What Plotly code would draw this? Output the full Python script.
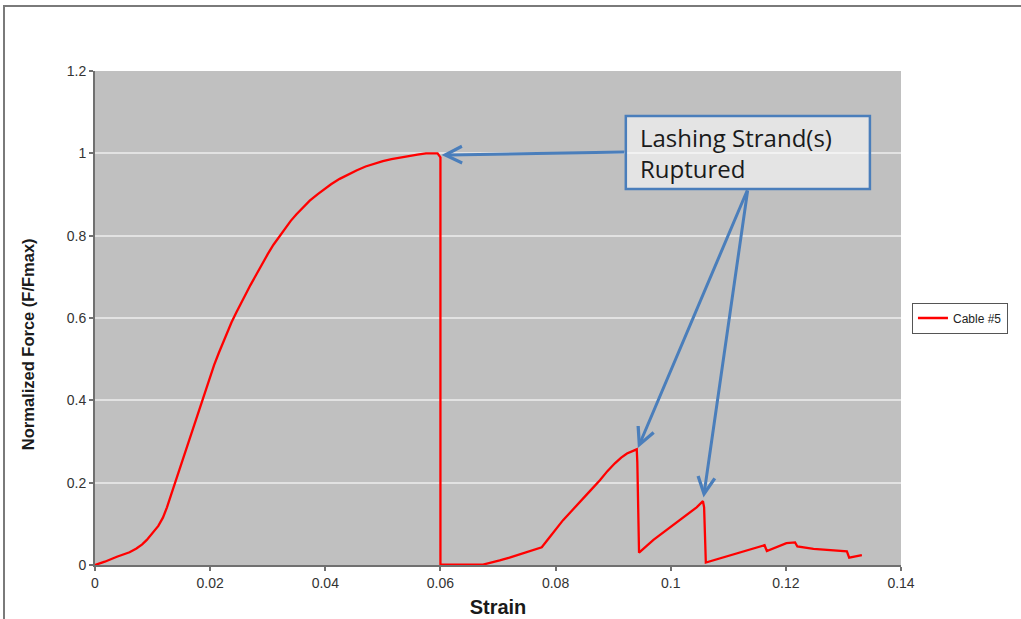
import plotly.graph_objects as go

# ---- data ----
strain = [
    0.0000, 0.0017, 0.0038, 0.0060, 0.0072, 0.0082, 0.0090, 0.0100, 0.0110,
    0.0118, 0.0125, 0.0132, 0.0139, 0.0147, 0.0155, 0.0162, 0.0170, 0.0178,
    0.0186, 0.0193, 0.0200, 0.0207, 0.0215, 0.0222, 0.0230, 0.0237, 0.0245,
    0.0252, 0.0260, 0.0270, 0.0280, 0.0290, 0.0300, 0.0310, 0.0321, 0.0330,
    0.0340, 0.0350, 0.0360, 0.0373, 0.0387, 0.0400, 0.0410, 0.0425, 0.0443,
    0.0455, 0.0470, 0.0485, 0.0500, 0.0515, 0.0530, 0.0545, 0.0560, 0.0575,
    0.0595, 0.0600, 0.0599, 0.0600,
    0.0674, 0.0690, 0.0703, 0.0720, 0.0738, 0.0761, 0.0770, 0.0776, 0.0790,
    0.0813, 0.0827, 0.0842, 0.0860, 0.0877, 0.0890, 0.0903, 0.0914, 0.0924,
    0.0933, 0.0941, 0.0942, 0.0945,
    0.0970, 0.1000, 0.1030, 0.1045, 0.1056, 0.1058, 0.1061,
    0.1100, 0.1138, 0.1163, 0.1167, 0.1201, 0.1216, 0.1220,
    0.1248, 0.1306, 0.1310, 0.1332,
]
force = [
    0.000, 0.008, 0.020, 0.031, 0.040, 0.050, 0.061, 0.078, 0.095,
    0.115, 0.140, 0.170, 0.200, 0.234, 0.267, 0.297, 0.332, 0.366,
    0.400, 0.430, 0.458, 0.486, 0.515, 0.540, 0.565, 0.589, 0.612,
    0.632, 0.653, 0.680, 0.705, 0.731, 0.755, 0.778, 0.800, 0.818,
    0.836, 0.852, 0.867, 0.885, 0.901, 0.915, 0.925, 0.938, 0.951,
    0.959, 0.968, 0.975, 0.981, 0.986, 0.990, 0.994, 0.997, 1.000,
    1.000, 0.990, 0.015, 0.001,
    0.001, 0.006, 0.011, 0.018, 0.026, 0.036, 0.040, 0.043, 0.068,
    0.109, 0.130, 0.152, 0.180, 0.206, 0.228, 0.247, 0.261, 0.271,
    0.277, 0.281, 0.250, 0.030,
    0.061, 0.093, 0.124, 0.140, 0.155, 0.140, 0.006,
    0.022, 0.038, 0.048, 0.034, 0.053, 0.055, 0.045,
    0.039, 0.033, 0.018, 0.024,
]
series_name = "Cable #5"
x_ticks = [0, 0.02, 0.04, 0.06, 0.08, 0.1, 0.12, 0.14]
x_tick_labels = ["0", "0.02", "0.04", "0.06", "0.08", "0.1", "0.12", "0.14"]
y_ticks = [0, 0.2, 0.4, 0.6, 0.8, 1.0, 1.2]
y_tick_labels = ["0", "0.2", "0.4", "0.6", "0.8", "1", "1.2"]
x_title = "Strain"
y_title = "Normalized Force (F/Fmax)"
note_lines = ["Lashing Strand(s)", "Ruptured"]

# rupture points (peaks just before each sudden drop), derived from the data
def peak_in(lo, hi):
    idx = [i for i, s in enumerate(strain) if lo <= s <= hi]
    best = max(idx, key=lambda i: (force[i], strain[i]))
    return strain[best], force[best]

ruptures = [peak_in(0.0, 0.0605), peak_in(0.085, 0.0999), peak_in(0.1, 0.11)]

fig = go.Figure()
fig.add_trace(go.Scatter(
    x=strain, y=force, mode="lines", name=series_name,
    line=dict(color="#FF0000", width=2.3),
))

axis_font = dict(family="Liberation Sans, Arial, sans-serif", size=14, color="#333333")

fig.update_layout(
    width=1021, height=619,
    margin=dict(l=95, r=120, t=71, b=54),
    paper_bgcolor="white",
    plot_bgcolor="#C0C0C0",
    showlegend=True,
    legend=dict(
        x=1.0136, xanchor="left", y=0.5, yanchor="middle",
        bgcolor="white", bordercolor="#555555", borderwidth=1,
        font=dict(family="Liberation Sans, Arial, sans-serif", size=12, color="#222222"),
        itemwidth=30,
    ),
    xaxis=dict(
        range=[0, 0.14], tickvals=x_ticks, ticktext=x_tick_labels,
        showgrid=False, zeroline=False, automargin=False,
        showline=True, linecolor="#707070", linewidth=2,
        ticks="outside", ticklen=4, tickcolor="#707070", tickwidth=1.5,
        tickfont=axis_font,
        title=dict(text="<b>" + x_title + "</b>", standoff=10,
                   font=dict(family="Liberation Sans, Arial, sans-serif", size=20, color="#1a1a1a")),
    ),
    yaxis=dict(
        range=[0, 1.2], tickvals=y_ticks, ticktext=y_tick_labels,
        showgrid=True, gridcolor="#E2E2E2", gridwidth=1.5, zeroline=False, automargin=False,
        showline=True, linecolor="#707070", linewidth=2,
        ticks="outside", ticklen=4, tickcolor="#707070", tickwidth=1.5,
        tickfont=axis_font,
    ),
)

# y-axis title (placed slightly below centre as in the reference)
fig.add_annotation(
    xref="paper", yref="paper", x=-0.0831, y=0.447,
    xanchor="center", yanchor="middle", textangle=-90, showarrow=False,
    text="<b>" + y_title + "</b>",
    font=dict(family="Liberation Sans, Arial, sans-serif", size=16.5, color="#1a1a1a"),
)

# outer chart border
fig.add_shape(type="rect", xref="paper", yref="paper",
              x0=-0.1129, x1=1.3, y0=-0.3, y1=1.1316,
              line=dict(color="#7a7a7a", width=2), fillcolor="rgba(0,0,0,0)", layer="below")

# callout box
box_x0, box_x1 = 0.0922, 0.1346
box_y0, box_y1 = 0.9133, 1.0906
fig.add_shape(type="rect", xref="x", yref="y",
              x0=box_x0, x1=box_x1, y0=box_y0, y1=box_y1,
              line=dict(color="#4A7EBB", width=2.5),
              fillcolor="rgba(255,255,255,0.57)", layer="above")
fig.add_annotation(
    xref="x", yref="y", x=box_x0 + 0.0022, y=(box_y0 + box_y1) / 2,
    xanchor="left", yanchor="middle", align="left", showarrow=False,
    text="<br>".join(note_lines),
    font=dict(family="Open Sans, sans-serif", size=24, color="#1a1a1a"),
)

# arrows
arrow_starts = [(box_x0, 1.003), (0.1134, box_y0), (0.1134, box_y0)]
tip_offsets = [(0.0007, -0.004), (0.0002, 0.003), (0.0001, 0.009)]
for (sx, sy), (px, py), (dx, dy) in zip(arrow_starts, ruptures, tip_offsets):
    fig.add_annotation(
        xref="x", yref="y", axref="x", ayref="y",
        x=px + dx, y=py + dy, ax=sx, ay=sy, text="",
        showarrow=True, arrowhead=5, arrowsize=1.1, arrowwidth=3,
        arrowcolor="#4A7EBB",
    )

fig.write_html("out.html")
